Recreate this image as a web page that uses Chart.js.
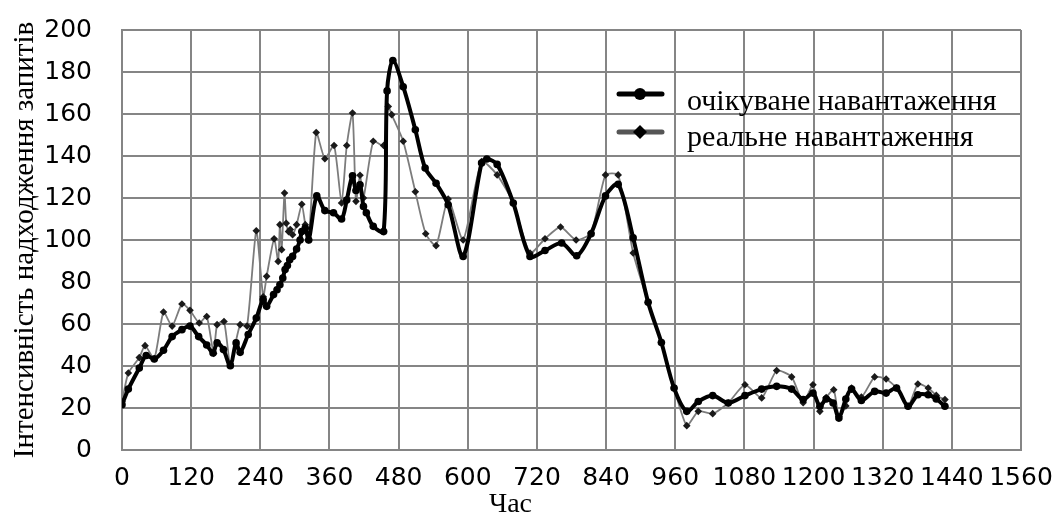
<!DOCTYPE html>
<html>
<head>
<meta charset="utf-8">
<script src="https://cdn.jsdelivr.net/npm/chart.js@4.4.0/dist/chart.umd.min.js"></script>
<style>
  html, body { margin: 0; padding: 0; background: #fff; }
</style>
</head>
<body>
<canvas id="grafik" width="1059" height="526"></canvas>
<script>
// очікуване навантаження (час, хв -> запити)
const expTime = [0, 11, 30, 42, 56, 72, 87, 104, 118, 133, 147, 158, 165, 176, 188, 198, 205, 219, 233, 245,
  251, 263, 269, 274, 279, 283, 287, 291, 296, 303, 309, 312, 318, 324, 338, 352, 367, 381, 390, 400,
  406, 413, 419, 424, 436, 454, 460, 470, 488, 509, 526, 545, 566, 592, 624, 633, 651, 679, 708, 734,
  763, 789, 814, 839, 861, 887, 913, 936, 958, 980, 1000, 1025, 1052, 1081, 1110, 1136, 1162, 1182, 1199, 1211,
  1222, 1234, 1244, 1256, 1266, 1283, 1306, 1326, 1344, 1364, 1381, 1399, 1413, 1428];
const expLoad = [21.6, 29, 39, 45, 43.3, 47.5, 54, 57.3, 59, 54, 50, 46.2, 51, 47.8, 40.1, 51, 46.5, 55, 62.8, 71.6,
  68.4, 74, 76.3, 78.7, 81.9, 85.9, 87.8, 90.6, 92.2, 95.7, 100, 104, 105.7, 100, 121, 114, 113, 110, 119, 130.6,
  123.6, 126.3, 116, 113, 106.5, 104, 171, 185.5, 173, 152.5, 134.3, 127, 116.8, 92.2, 136.7, 138.6, 136, 117.6, 92.2, 95,
  98.6, 92.5, 103, 121, 126.5, 101, 70.3, 51.2, 29.5, 18.4, 23.1, 25.9, 22.4, 25.9, 29, 30.3, 29, 24, 27.1, 20.8,
  24.3, 22.4, 15.2, 24.3, 29, 23.6, 27.9, 27.1, 29.5, 20.8, 26.3, 26.3, 24.3, 20.8];

// реальне навантаження
const realTime = [0, 11, 30, 40, 56, 72, 87, 104, 118, 134, 147, 159, 165, 177, 188, 205, 217, 233, 245, 251,
  264, 271, 274, 277, 282, 285, 289, 292, 296, 303, 312, 318, 324, 337, 352, 368, 381, 390, 400, 406,
  413, 419, 436, 454, 462, 468, 488, 509, 527, 545, 566, 592, 624, 651, 679, 708, 734, 761, 788, 814,
  839, 861, 887, 913, 936, 958, 980, 1000, 1025, 1052, 1081, 1110, 1136, 1162, 1182, 1199, 1211, 1222, 1235, 1244,
  1256, 1266, 1283, 1306, 1326, 1344, 1364, 1381, 1399, 1413, 1428];
const realLoad = [23, 36.7, 44, 49.7, 43.5, 65.7, 59, 69.5, 66.5, 60.5, 63.6, 46, 59.7, 61.2, 41, 59.7, 59, 104.4, 73, 82.7,
  100.6, 89.8, 107.3, 95.4, 122.4, 108, 104, 105, 102.5, 107.3, 117, 107.3, 100, 151.2, 138.7, 145, 117.6, 145, 160.5, 118.4,
  130.8, 120, 147, 145, 163.6, 159.7, 147, 123, 103, 97.3, 119.5, 100, 137.4, 131, 117.6, 93.8, 100.6, 106.2, 100, 103.3,
  131, 131, 93.8, 70.3, 51.2, 29.5, 11.6, 18.4, 17.3, 22.4, 31.1, 24.8, 37.8, 34.8, 22.5, 31.1, 18.4, 25, 28.7, 16,
  21, 29.5, 25.2, 34.8, 33.8, 29.5, 20.8, 31.4, 29.5, 26, 24];

const seriesNames = ['очікуване навантаження', 'реальне навантаження'];
const xTicks = [0, 120, 240, 360, 480, 600, 720, 840, 960, 1080, 1200, 1320, 1440, 1560];
const yTicks = [0, 20, 40, 60, 80, 100, 120, 140, 160, 180, 200];

const gridColor = '#858585';
const serif = '"Liberation Serif", "Times New Roman", serif';
const sans = '"DejaVu Sans", Verdana, sans-serif';

// прибрати автоматичні відступи шкали, щоб область графіка задавалась layout.padding
function bezVidstupiv(s) {
  s.paddingTop = 0;
  s.paddingBottom = 0;
  s.paddingLeft = 0;
  s.paddingRight = 0;
}

// легенда всередині області графіка
const legendaVseredyni = {
  id: 'legendaVseredyni',
  afterDatasetsDraw(chart) {
    const ctx = chart.ctx;
    const rows = [
      { name: seriesNames[0], y: 94, base: 110, line: '#000', shape: 'circle' },
      { name: seriesNames[1], y: 132, base: 146, line: '#555', shape: 'diamond' }
    ];
    ctx.save();
    rows.forEach(r => {
      ctx.strokeStyle = r.line;
      ctx.lineWidth = 5;
      ctx.lineCap = 'round';
      ctx.beginPath();
      ctx.moveTo(619, r.y);
      ctx.lineTo(662, r.y);
      ctx.stroke();
      ctx.fillStyle = '#000';
      ctx.beginPath();
      if (r.shape === 'circle') {
        ctx.arc(640, r.y, 6, 0, Math.PI * 2);
      } else {
        ctx.moveTo(640, r.y - 7);
        ctx.lineTo(647, r.y);
        ctx.lineTo(640, r.y + 7);
        ctx.lineTo(633, r.y);
        ctx.closePath();
      }
      ctx.fill();
      ctx.font = '30px ' + serif;
      ctx.textAlign = 'left';
      ctx.textBaseline = 'alphabetic';
      ctx.fillText(r.name, 687, r.base);
    });
    ctx.restore();
  }
};

const ctx = document.getElementById('grafik').getContext('2d');

const grafik = new Chart(ctx, {
  type: 'line',
  data: {
    datasets: [{
      label: seriesNames[0],
      data: expTime.map((x, i) => ({ x, y: expLoad[i] })),
      borderColor: '#000',
      backgroundColor: '#000',
      borderWidth: 4,
      pointStyle: 'circle',
      pointRadius: 3.8,
      pointBorderWidth: 0,
      tension: 0.3,
      order: 0
    }, {
      label: seriesNames[1],
      data: realTime.map((x, i) => ({ x, y: realLoad[i] })),
      borderColor: '#7c7c7c',
      backgroundColor: '#1a1a1a',
      borderWidth: 1.8,
      pointStyle: 'rectRot',
      pointRadius: 3.8,
      pointBorderWidth: 0,
      tension: 0.2,
      order: 1
    }]
  },
  options: {
    responsive: false,
    animation: false,
    layout: { padding: { left: 0, right: 38, top: 30, bottom: 0 } },
    plugins: {
      legend: { display: false },
      tooltip: { enabled: false },
      title: {
        display: true,
        text: 'Час',
        position: 'bottom',
        color: '#000',
        font: { family: serif, size: 28, weight: 'normal' },
        padding: { top: 0, bottom: 5 }
      }
    },
    scales: {
      x: {
        type: 'linear',
        min: 0,
        max: 1560,
        afterBuildTicks: s => { s.ticks = xTicks.map(v => ({ value: v })); },
        afterFit: s => { s.height = 37.4; bezVidstupiv(s); },
        grid: { color: gridColor, lineWidth: 2, drawTicks: false },
        border: { color: gridColor, width: 2 },
        ticks: {
          color: '#000',
          padding: 13,
          maxRotation: 0,
          autoSkip: false,
          callback: v => String(v),
          font: { family: sans, size: 25 }
        }
      },
      y: {
        min: 0,
        max: 200,
        afterBuildTicks: s => { s.ticks = yTicks.map(v => ({ value: v })); },
        afterFit: s => { s.width = 122; bezVidstupiv(s); },
        grid: { color: gridColor, lineWidth: 2, drawTicks: false },
        border: { color: gridColor, width: 2 },
        ticks: {
          color: '#000',
          padding: 30,
          callback: v => String(v),
          font: { family: sans, size: 25 }
        },
        title: {
          display: true,
          text: 'Інтенсивність надходження запитів',
          color: '#000',
          font: { family: serif, size: 29 },
          padding: { top: 8, bottom: 0 }
        }
      }
    }
  },
  plugins: [legendaVseredyni]
});
</script>
</body>
</html>
